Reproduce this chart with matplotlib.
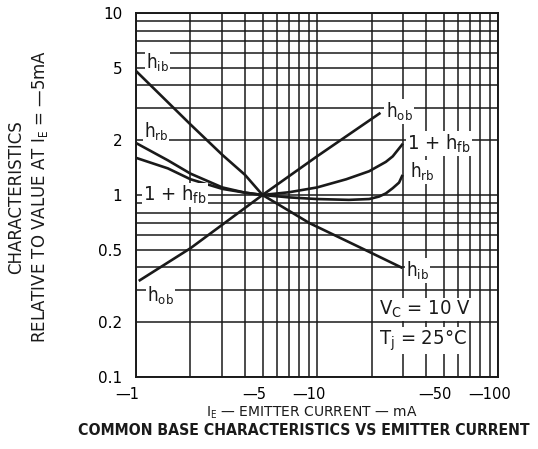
import numpy as np
import matplotlib
matplotlib.use("Agg")
import matplotlib.pyplot as plt
import matplotlib.transforms as mtransforms
from matplotlib import font_manager

# values (|IE| in mA, value relative to IE = -5 mA)
h_ib_x = [1, 2, 3, 4, 5, 6.2, 9.1, 19.5, 29.2]
h_ib_y = [4.8, 2.44, 1.66, 1.29, 1.0, 0.88, 0.70, 0.486, 0.40]

h_ob_x = [1.05, 2, 5, 10, 22.1]
h_ob_y = [0.34, 0.51, 1.0, 1.63, 2.8]

h_rb_x = [1, 1.5, 2, 3, 4, 5, 7, 10, 15, 19.4, 22, 24, 26.2, 28.4, 29.5]
h_rb_y = [1.93, 1.55, 1.31, 1.10, 1.03, 1.0, 0.97, 0.95, 0.94, 0.95, 0.98, 1.02, 1.09, 1.17, 1.27]

hfb_x = [1, 1.5, 2, 3, 4, 5, 7, 10, 14.5, 19.4, 24, 26.2, 29.5]
hfb_y = [1.6, 1.40, 1.22, 1.08, 1.03, 1.0, 1.035, 1.10, 1.22, 1.35, 1.52, 1.63, 1.89]

x_major = [1, 5, 10, 50, 100]
x_major_labels = ["—1", "—5", "—10", "—50", "—100"]
x_minor = [2, 3, 4, 6, 7, 8, 9, 20, 30, 40, 60, 70, 80, 90]
y_major = [0.1, 0.2, 0.5, 1, 2, 5, 10]
y_major_labels = ["0.1", "0.2", "0.5", "1", "2", "5", "10"]
y_minor = [0.3, 0.4, 0.6, 0.7, 0.8, 0.9, 3, 4, 6, 7, 8, 9]

# pick a condensed face for the curve labels if one is installed
narrow = "DejaVu Sans"
for f in font_manager.fontManager.ttflist:
    if f.name == "DejaVu Sans" and str(f.stretch) in ("condensed", "semi-condensed"):
        narrow = "DejaVu Sans:stretch=condensed"
        break

plt.rcParams["mathtext.fontset"] = "custom"
plt.rcParams["mathtext.rm"] = narrow
plt.rcParams["mathtext.it"] = narrow
plt.rcParams["mathtext.bf"] = narrow
stretch = "condensed" if narrow != "DejaVu Sans" else "normal"

fig = plt.figure(figsize=(5.38, 4.49), dpi=100)
ax = fig.add_axes([0.2528, 0.1604, 0.6729, 0.8107])
ax.set_xscale("log")
ax.set_yscale("log")
ax.set_xlim(1, 100)
ax.set_ylim(0.1, 10)

ax.set_xticks(x_major)
ax.set_xticklabels(x_major_labels)
ax.set_xticks(x_minor, minor=True)
ax.set_yticks(y_major)
ax.set_yticklabels(y_major_labels)
ax.set_yticks(y_minor, minor=True)
ax.tick_params(which="both", length=0)
ax.tick_params(axis="y", pad=10, labelsize=11)
ax.tick_params(axis="x", pad=7, labelsize=10.5)
ax.xaxis.set_minor_formatter(matplotlib.ticker.NullFormatter())
ax.yaxis.set_minor_formatter(matplotlib.ticker.NullFormatter())

# shift x labels so the number (not the dash) sits under the grid line
shift = mtransforms.ScaledTranslation(-6.0 / 72, 0, fig.dpi_scale_trans)
for lab in ax.get_xticklabels():
    lab.set_transform(lab.get_transform() + shift)

ax.grid(True, which="both", color="#1a1a1a", lw=1.1)
ax.set_axisbelow(True)
for s in ax.spines.values():
    s.set_linewidth(1.4)
    s.set_color("#1a1a1a")

lw = 1.9
ax.plot(h_ib_x, h_ib_y, color="#1a1a1a", lw=lw, zorder=3)
ax.plot(h_ob_x, h_ob_y, color="#1a1a1a", lw=lw, zorder=3)
ax.plot(h_rb_x, h_rb_y, color="#1a1a1a", lw=lw, zorder=3)
ax.plot(hfb_x, hfb_y, color="#1a1a1a", lw=lw, zorder=3)

box = dict(fc="white", ec="none", pad=0.8)
small = dict(fontsize=13.5, fontstretch=stretch, color="#1a1a1a", ha="center",
             va="center", bbox=box, zorder=5)
big = dict(fontsize=14.5, fontstretch=stretch, color="#1a1a1a", ha="center",
           va="center", bbox=box, zorder=5)

ax.text(1.31, 5.3, r"h$_{\mathrm{ib}}$", **small)
ax.text(1.29, 2.23, r"h$_{\mathrm{rb}}$", **small)
ax.text(1.64, 1.0, r"1 + h$_{\mathrm{fb}}$", **big)
ax.text(1.36, 0.28, r"h$_{\mathrm{ob}}$", **small)
ax.text(28.4, 2.87, r"h$_{\mathrm{ob}}$", **small)
ax.text(47.3, 1.91, r"1 + h$_{\mathrm{fb}}$", **big)
ax.text(38.1, 1.34, r"h$_{\mathrm{rb}}$", **small)
ax.text(35.8, 0.385, r"h$_{\mathrm{ib}}$", **small)
ax.text(39.5, 0.235, r"V$_{\mathrm{C}}$ = 10 V", **big)
ax.text(38.5, 0.158, r"T$_{\mathrm{j}}$ = 25°C", **big)

fig.text(0.030, 0.561, "CHARACTERISTICS", rotation=90, ha="center", va="center",
         fontsize=12, color="#1a1a1a")
fig.text(0.074, 0.561, r"RELATIVE TO VALUE AT I$_{\mathrm{E}}$ = —5mA", rotation=90,
         ha="center", va="center", fontsize=12, color="#1a1a1a")
fig.text(0.58, 0.081, r"I$_{\mathrm{E}}$ — EMITTER CURRENT — mA", ha="center",
         va="center", fontsize=10, color="#1a1a1a")
fig.text(0.565, 0.041, "COMMON BASE CHARACTERISTICS VS EMITTER CURRENT",
         ha="center", va="center", fontsize=11.3, fontweight="bold",
         fontstretch=stretch, color="#1a1a1a")

fig.savefig("out.png", dpi=100)
